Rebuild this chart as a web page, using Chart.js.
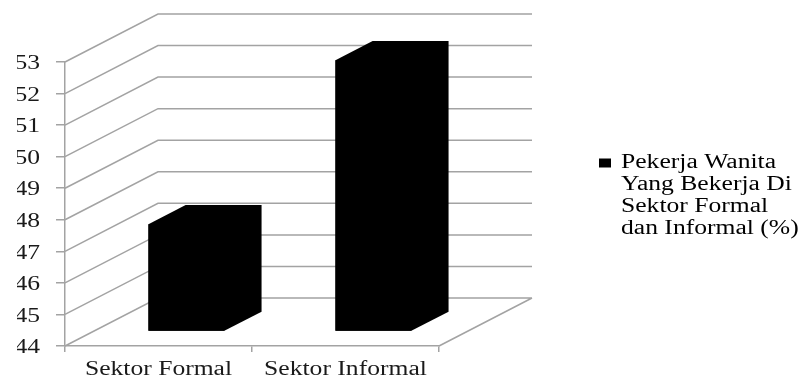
<!DOCTYPE html>
<html>
<head>
<meta charset="utf-8">
<script src="https://cdn.jsdelivr.net/npm/chart.js@4.4.1/dist/chart.umd.min.js"></script>
<style>
  html, body { margin: 0; padding: 0; background: #fff; }
  #wrap { width: 802px; height: 380px; }
</style>
</head>
<body>
<div id="wrap"><canvas id="chart"></canvas></div>
<script>
const categories = ['Sektor Formal', 'Sektor Informal'];
const values = [47.4, 52.6];
const seriesLines = ['Pekerja Wanita', 'Yang Bekerja Di', 'Sektor Formal', 'dan Informal (%)'];
const yMin = 44;
const yMax = 53;

const FONT = '"Liberation Serif", "Times New Roman", serif';
const GRID = '#a3a3a3';
const TEXT = '#1a1a1a';
// offset from the front plane to the back wall, and where the bars sit in that depth
const depth = { x: 93, y: -48 };
const barFront = 0.3;
const barDepth = 0.4;
const textStretch = 1.28;
const legendX = 589;
const legendShiftY = -7;

// the source picture has its type squeezed wide, so scale text horizontally
function stretchText(ctx) {
    if (ctx._stretched) return;
    const fill = ctx.fillText.bind(ctx);
    const measure = ctx.measureText.bind(ctx);
    ctx.fillText = (t, x, y) => {
        ctx.save();
        ctx.translate(x, y);
        ctx.scale(textStretch, 1);
        fill(t, 0, 0);
        ctx.restore();
    };
    ctx.measureText = t => {
        const m = measure(t);
        return {
            width: m.width * textStretch,
            actualBoundingBoxAscent: m.actualBoundingBoxAscent,
            actualBoundingBoxDescent: m.actualBoundingBoxDescent
        };
    };
    ctx._stretched = true;
}

const walls3d = {
    id: 'walls3d',
    beforeInit(chart) {
        stretchText(chart.ctx);
    },
    afterLayout(chart) {
        const lg = chart.legend;
        lg.left = legendX;
        lg.right = chart.width;
        lg.top += legendShiftY;
        lg.bottom += legendShiftY;
    },
    beforeDatasetsDraw(chart) {
        const { ctx, chartArea: a, scales: { y } } = chart;
        ctx.save();
        ctx.strokeStyle = GRID;
        ctx.lineWidth = 1.5;
        ctx.beginPath();
        y.ticks.forEach(t => {
            const py = y.getPixelForValue(t.value);
            ctx.moveTo(a.left, py);
            ctx.lineTo(a.left + depth.x, py + depth.y);
            ctx.lineTo(a.right + depth.x, py + depth.y);
        });
        ctx.moveTo(a.right, a.bottom);
        ctx.lineTo(a.right + depth.x, a.bottom + depth.y);
        ctx.stroke();
        ctx.restore();
    },
    beforeDatasetDraw(chart) {
        chart.ctx.save();
        chart.ctx.translate(depth.x * barFront, depth.y * barFront);
    },
    afterDatasetDraw(chart, args) {
        const ctx = chart.ctx;
        const dx = depth.x * barDepth;
        const dy = depth.y * barDepth;
        ctx.fillStyle = '#000';
        args.meta.data.forEach(bar => {
            const l = bar.x - bar.width / 2;
            const r = bar.x + bar.width / 2;
            ctx.beginPath();
            ctx.moveTo(l, bar.y);
            ctx.lineTo(l + dx, bar.y + dy);
            ctx.lineTo(r + dx, bar.y + dy);
            ctx.lineTo(r + dx, bar.base + dy);
            ctx.lineTo(r, bar.base);
            ctx.lineTo(l, bar.base);
            ctx.closePath();
            ctx.fill();
        });
        ctx.restore();
    }
};

new Chart(document.getElementById('chart'), {
    type: 'bar',
    data: {
        labels: categories,
        datasets: [{
            label: seriesLines.join(' '),
            data: values,
            base: yMin,
            backgroundColor: '#000',
            borderWidth: 0,
            barPercentage: 0.406,
            categoryPercentage: 1
        }]
    },
    options: {
        responsive: true,
        maintainAspectRatio: false,
        animation: false,
        layout: { padding: { left: 17, top: 62, right: 0, bottom: 0 } },
        plugins: {
            tooltip: { enabled: false },
            legend: {
                position: 'right',
                fullSize: false,
                maxWidth: 120,
                labels: {
                    font: { family: FONT, size: 20, lineHeight: 1.1 },
                    color: TEXT,
                    boxWidth: 12,
                    boxHeight: 9,
                    generateLabels: () => [{
                        text: seriesLines,
                        fillStyle: '#000',
                        strokeStyle: '#000',
                        lineWidth: 0,
                        hidden: false,
                        datasetIndex: 0
                    }]
                }
            }
        },
        scales: {
            x: {
                offset: true,
                grid: { offset: true, drawOnChartArea: false, tickLength: 6, color: GRID, lineWidth: 1.5 },
                border: { color: GRID, width: 1.5 },
                ticks: { font: { family: FONT, size: 20, lineHeight: 1 }, color: TEXT, padding: 8, maxRotation: 0 },
                afterFit: s => { s.height = 34; }
            },
            y: {
                min: yMin,
                max: yMax,
                grid: { drawOnChartArea: false, tickLength: 9, color: GRID, lineWidth: 1.5 },
                border: { color: GRID, width: 1.5 },
                ticks: { stepSize: 1, font: { family: FONT, size: 20 }, color: TEXT, padding: 16, labelOffset: 2 },
                afterFit: s => { s.width = 48; }
            },
            gap: {
                type: 'linear',
                position: 'right',
                grid: { display: false },
                border: { display: false },
                ticks: { display: false },
                afterFit: s => { s.width = 243; }
            }
        }
    },
    plugins: [walls3d]
});
</script>
</body>
</html>
